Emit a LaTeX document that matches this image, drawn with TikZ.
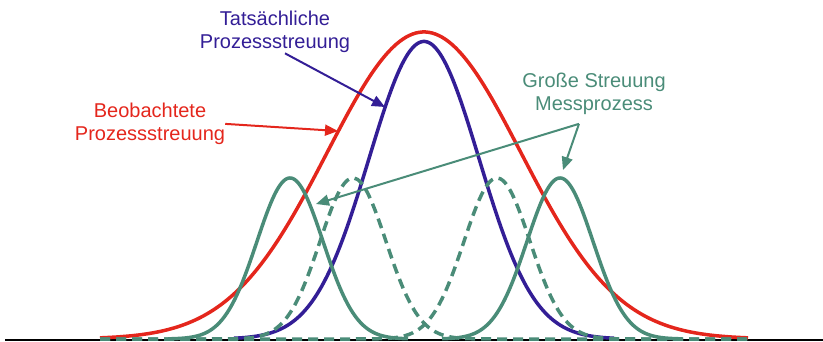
\documentclass[tikz,border=0pt]{standalone}
\usepackage{fontspec}
\setmainfont{Liberation Sans}
\usetikzlibrary{arrows.meta}
\definecolor{rot}{RGB}{228,38,28}
\definecolor{blau}{RGB}{51,30,150}
\definecolor{gruen}{RGB}{74,140,120}

\begin{document}
\begin{tikzpicture}[x=1pt, y=-1pt,
    textblock/.style={align=center, inner sep=0pt, anchor=north, font=\fontsize{20}{23.3}\selectfont},
    kurve/.style={line width=3.5pt, domain=100:748, samples=200, smooth},
    gestrichelt/.style={dash pattern=on 10pt off 6pt},
    pfeil/.style={line width=2pt, -{Triangle[length=13pt, width=11pt]}}]
    \useasboundingbox (0,0) rectangle (823,341);

    % Nodes
    \node[textblock, blau] (tats) at (275,11) {Tatsächliche\\Prozessstreuung};
    \node[textblock, rot] (beob) at (150,102.7) {Beobachtete\\Prozessstreuung};
    \node[textblock, gruen] (gross) at (594,72.5) {Große Streuung\\Messprozess};

    % Curves
    \draw[black, line width=2pt] (5,340) -- (823,340);
    \draw[kurve, rot] plot (\x, {339-307*exp(-0.5*((\x-424)/97)^2)});
    \draw[kurve, blau, domain=234:614] plot (\x, {339-297.5*exp(-0.5*((\x-424)/55)^2)});
    \draw[kurve, gruen, gestrichelt] plot (\x, {339-161*exp(-0.5*((\x-353)/33)^2)});
    \draw[kurve, gruen, gestrichelt] plot (\x, {339-161*exp(-0.5*((\x-497)/33)^2)});
    \draw[kurve, gruen, domain=168:408] plot (\x, {339-161*exp(-0.5*((\x-290)/33)^2)});
    \draw[kurve, gruen, domain=442:682] plot (\x, {339-161*exp(-0.5*((\x-560)/33)^2)});

    % Arrows
    \coordinate (spitzeRot) at (338,131);
    \coordinate (spitzeBlau) at (385,107);
    \coordinate (gabel) at ([xshift=-15pt, yshift=-9pt]gross.south);
    \coordinate (spitzeLinks) at (316,204);
    \coordinate (spitzeRechts) at (563,170);
    \draw[pfeil, rot] (beob.east) -- (spitzeRot);
    \draw[pfeil, blau] ([xshift=10pt]tats.south) -- (spitzeBlau);
    \draw[pfeil, gruen] (gabel) -- (spitzeLinks);
    \draw[pfeil, gruen] (gabel) -- (spitzeRechts);
\end{tikzpicture}
\end{document}
